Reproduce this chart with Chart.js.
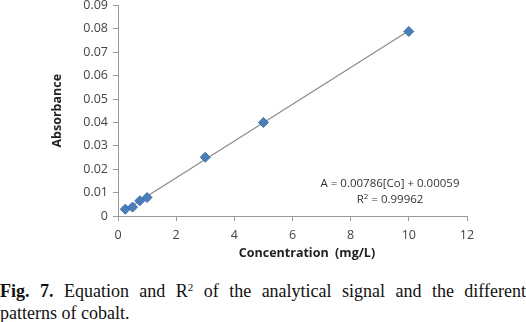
<!DOCTYPE html>
<html>
<head>
<meta charset="utf-8">
<script src="https://cdn.jsdelivr.net/npm/chart.js@4"></script>
<style>
  html, body { margin: 0; padding: 0; background: #fff; }
  #wrap { position: relative; width: 526px; height: 322px; overflow: hidden; }
  #chartBox { position: absolute; left: 0; top: -7px; width: 526px; height: 273px; }
  #eq { position: absolute; left: 300px; top: 175px; width: 180px; text-align: center;
        font-family: "Open Sans", "Liberation Sans", sans-serif; font-size: 11.5px; color: #333; line-height: 16px; }
  #xTitle { position: absolute; left: 207px; top: 244px; width: 200px; text-align: center;
        font-family: "Open Sans", "Liberation Sans", sans-serif; font-size: 12.5px; font-weight: bold; color: #222; }
  .cap { position: absolute; left: 0; width: 526px;
        font-family: "Liberation Serif", "DejaVu Serif", serif; font-size: 18px; line-height: 22px; color: #111; }
  #cap1 { top: 280px; text-align: justify; text-align-last: justify; }
  #cap2 { top: 302px; text-align: left; }
  .cap sup { font-size: 11px; vertical-align: 6px; line-height: 0; }
</style>
</head>
<body>
<div id="wrap">
  <div id="chartBox"><canvas id="cobaltChart"></canvas></div>
  <div id="eq">A = 0.00786[Co] + 0.00059<br>R<sup style="font-size:8px;vertical-align:4px;line-height:0">2</sup> = 0.99962</div>
  <div id="xTitle">Concentration&nbsp; (mg/L)</div>
  <div class="cap" id="cap1"><b>Fig. 7.</b> Equation and R<sup>2</sup> of the analytical signal and the different</div>
  <div class="cap" id="cap2">patterns of cobalt.</div>
</div>
<script>
// standards of cobalt (mg/L) and measured absorbance
const concentration = [0.25, 0.5, 0.75, 1, 3, 5, 10];
const absorbance = [0.0029, 0.0038, 0.0065, 0.0079, 0.0251, 0.0400, 0.0789];
// linear fit A = 0.00786[Co] + 0.00059, drawn between the outer standards
const fitX = [0.25, 10];
const fitY = [0.0026, 0.0792];

const xTicks = [0, 2, 4, 6, 8, 10, 12];
const yTicks = [0, 0.01, 0.02, 0.03, 0.04, 0.05, 0.06, 0.07, 0.08, 0.09];

const axisFont = { family: '"Open Sans", "Liberation Sans", sans-serif', size: 12.5 };
const titleFont = { family: '"Open Sans", "Liberation Sans", sans-serif', size: 12.5, weight: 'bold' };

function renderChart() {
    const ctx = document.getElementById('cobaltChart').getContext('2d');
    new Chart(ctx, {
        type: 'scatter',
        data: {
            datasets: [
                { label: 'Fit', type: 'line', data: fitX.map((x, i) => ({ x: x, y: fitY[i] })),
                  borderColor: '#8a8a8a', borderWidth: 1.2, pointRadius: 0, fill: false, order: 2 },
                { label: 'Standards', data: concentration.map((x, i) => ({ x: x, y: absorbance[i] })),
                  pointStyle: 'rectRot', pointRadius: 5, backgroundColor: '#4a7ebb', borderColor: '#3f6fa8',
                  borderWidth: 1, order: 1 }
            ]
        },
        options: {
            responsive: true, maintainAspectRatio: false, animation: false,
            layout: { padding: { left: 50, right: 59, top: 0, bottom: 0 } },
            plugins: { legend: { display: false }, tooltip: { enabled: false } },
            scales: {
                x: {
                    type: 'linear', min: 0, max: 12,
                    afterBuildTicks: s => { s.ticks = xTicks.map(v => ({ value: v })); },
                    border: { color: '#9a9a9a', width: 1 },
                    grid: { display: true, drawOnChartArea: false, drawTicks: true, tickLength: 5, color: '#9a9a9a' },
                    ticks: { color: '#444', font: axisFont, padding: 7 },
                    afterFit: s => { s.height = 50; }
                },
                y: {
                    type: 'linear', min: 0, max: 0.09,
                    afterBuildTicks: s => { s.ticks = yTicks.map(v => ({ value: v })); },
                    border: { color: '#9a9a9a', width: 1 },
                    grid: { display: true, drawOnChartArea: false, drawTicks: true, tickLength: 5, color: '#9a9a9a' },
                    ticks: { color: '#444', font: axisFont, padding: 5, callback: v => v === 0 ? '0' : Number(v).toFixed(2) },
                    title: { display: true, text: 'Absorbance', color: '#222', font: titleFont, padding: { top: 0, bottom: 4 } },
                    afterFit: s => { s.width = 68; }
                }
            }
        }
    });
}

window.onload = renderChart;
</script>
</body>
</html>
